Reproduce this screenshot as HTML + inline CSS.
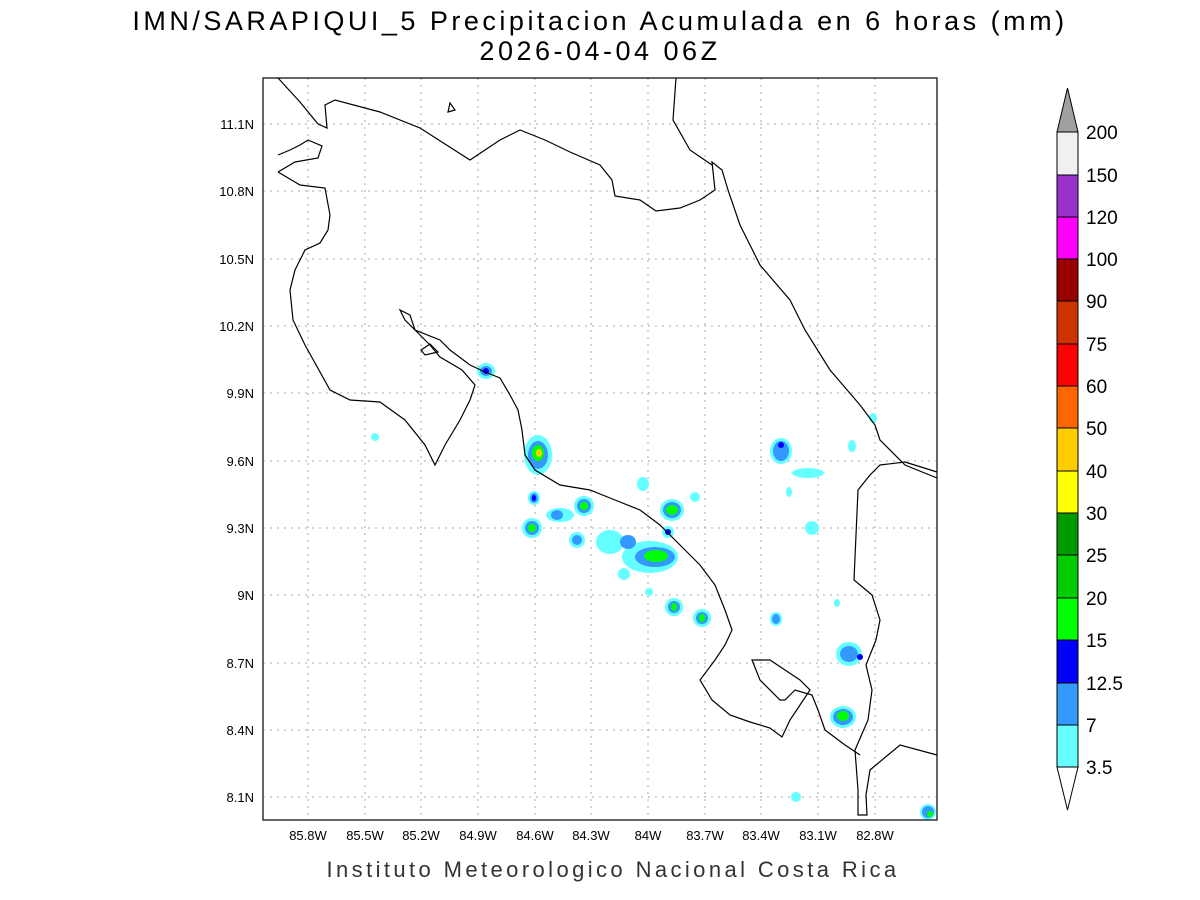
<!DOCTYPE html>
<html><head><meta charset="utf-8"><style>
body{margin:0;background:#fff;width:1200px;height:900px;overflow:hidden}
svg{display:block}
text{font-family:"Liberation Sans",sans-serif}
</style></head><body>
<svg width="1200" height="900" viewBox="0 0 1200 900">
<rect width="1200" height="900" fill="#fff"/>
<text x="600" y="30" font-size="27" text-anchor="middle" letter-spacing="3.5">IMN/SARAPIQUI_5 Precipitacion Acumulada en 6 horas (mm)</text>
<text x="600" y="60" font-size="27" text-anchor="middle" letter-spacing="3.5">2026-04-04 06Z</text>
<g stroke="#aaa" stroke-width="1" stroke-dasharray="2,5">
<line x1="308" y1="78" x2="308" y2="820"/><line x1="365" y1="78" x2="365" y2="820"/><line x1="421" y1="78" x2="421" y2="820"/><line x1="478" y1="78" x2="478" y2="820"/><line x1="535" y1="78" x2="535" y2="820"/><line x1="591" y1="78" x2="591" y2="820"/><line x1="648" y1="78" x2="648" y2="820"/><line x1="705" y1="78" x2="705" y2="820"/><line x1="761" y1="78" x2="761" y2="820"/><line x1="818" y1="78" x2="818" y2="820"/><line x1="875" y1="78" x2="875" y2="820"/>
<line x1="263" y1="124" x2="937" y2="124"/><line x1="263" y1="191" x2="937" y2="191"/><line x1="263" y1="259" x2="937" y2="259"/><line x1="263" y1="326" x2="937" y2="326"/><line x1="263" y1="393" x2="937" y2="393"/><line x1="263" y1="461" x2="937" y2="461"/><line x1="263" y1="528" x2="937" y2="528"/><line x1="263" y1="595" x2="937" y2="595"/><line x1="263" y1="663" x2="937" y2="663"/><line x1="263" y1="730" x2="937" y2="730"/><line x1="263" y1="797" x2="937" y2="797"/>
</g>
<g>
<g fill="#66ffff"><ellipse cx="538" cy="455" rx="14" ry="20"/><ellipse cx="532" cy="528" rx="10" ry="10"/><ellipse cx="584" cy="506" rx="10" ry="10"/><ellipse cx="560" cy="515" rx="14" ry="7"/><ellipse cx="577" cy="540" rx="8" ry="8"/><ellipse cx="610" cy="542" rx="14" ry="12"/><ellipse cx="650" cy="557" rx="28" ry="16"/><ellipse cx="672" cy="510" rx="12" ry="11"/><ellipse cx="668" cy="532" rx="6" ry="6"/><ellipse cx="674" cy="607" rx="9" ry="9"/><ellipse cx="702" cy="618" rx="9" ry="9"/><ellipse cx="781" cy="451" rx="11" ry="13"/><ellipse cx="808" cy="473" rx="16" ry="5"/><ellipse cx="849" cy="654" rx="13" ry="12"/><ellipse cx="843" cy="717" rx="13" ry="11"/><ellipse cx="486" cy="371" rx="9" ry="8"/><ellipse cx="776" cy="619" rx="6" ry="7"/><ellipse cx="534" cy="498" rx="6" ry="7"/><ellipse cx="643" cy="484" rx="6" ry="7"/><ellipse cx="928" cy="812" rx="8" ry="8"/><ellipse cx="812" cy="528" rx="7" ry="7"/><ellipse cx="695" cy="497" rx="5" ry="5"/><ellipse cx="624" cy="574" rx="6" ry="6"/><ellipse cx="375" cy="437" rx="4" ry="4"/><ellipse cx="796" cy="797" rx="5" ry="5"/><ellipse cx="852" cy="446" rx="4" ry="6"/><ellipse cx="873" cy="418" rx="4" ry="5"/><ellipse cx="649" cy="592" rx="4" ry="4"/><ellipse cx="789" cy="492" rx="3" ry="5"/><ellipse cx="837" cy="603" rx="3" ry="4"/></g>
<g fill="#3399ff"><ellipse cx="538" cy="455" rx="10" ry="14"/><ellipse cx="532" cy="528" rx="7" ry="7"/><ellipse cx="584" cy="506" rx="7" ry="7"/><ellipse cx="577" cy="540" rx="5" ry="5"/><ellipse cx="628" cy="542" rx="8" ry="7"/><ellipse cx="655" cy="557" rx="20" ry="10"/><ellipse cx="672" cy="510" rx="9" ry="8"/><ellipse cx="674" cy="607" rx="6" ry="6"/><ellipse cx="702" cy="618" rx="6" ry="6"/><ellipse cx="781" cy="451" rx="8" ry="10"/><ellipse cx="849" cy="654" rx="9" ry="8"/><ellipse cx="843" cy="717" rx="10" ry="8"/><ellipse cx="486" cy="371" rx="6" ry="5"/><ellipse cx="534" cy="498" rx="4" ry="5"/><ellipse cx="928" cy="812" rx="6" ry="6"/><ellipse cx="776" cy="619" rx="4" ry="5"/><ellipse cx="557" cy="515" rx="6" ry="5"/></g>
<g fill="#00ff00"><ellipse cx="538" cy="453" rx="6" ry="8"/><ellipse cx="532" cy="528" rx="4" ry="4"/><ellipse cx="584" cy="506" rx="4" ry="4"/><ellipse cx="656" cy="556" rx="12" ry="6"/><ellipse cx="672" cy="510" rx="6" ry="5"/><ellipse cx="674" cy="607" rx="3" ry="4"/><ellipse cx="702" cy="618" rx="3" ry="4"/><ellipse cx="843" cy="716" rx="6" ry="5"/><ellipse cx="930" cy="814" rx="3" ry="3"/></g>
<g fill="#0000ff"><ellipse cx="486" cy="371" rx="3" ry="3"/><ellipse cx="668" cy="532" rx="3" ry="3"/><ellipse cx="781" cy="445" rx="3" ry="3"/><ellipse cx="860" cy="657" rx="3" ry="3"/><ellipse cx="534" cy="498" rx="2" ry="3"/></g>
<ellipse cx="539" cy="453" rx="3" ry="4" fill="#ffcc00"/>
</g>
<g fill="none" stroke="#000" stroke-width="1.2">
<path d="M278,78 L300,102 L318,124 L327,128 L325,105 L335,100 L380,112 L420,128 L470,160 L500,140 L520,130 L545,140 L570,152 L600,165 L612,180 L615,196 L640,200 L656,211 L680,208 L700,200 L715,190 L712,162 L722,170 L728,190 L740,225 L760,265 L790,300 L805,330 L830,370 L860,405 L875,425 L880,440 L905,465 L937,478"/>
<path d="M676,78 L673,120 L690,150 L712,165"/>
<path d="M937,472 L905,462 L880,465 L870,475 L858,490 L854,580 L872,595 L880,620 L876,640 L866,665 L872,690 L868,720 L855,750 L858,790 L858,815 L867,815 L866,795 L870,770 L900,745 L937,755"/>
<path d="M278,172 L295,162 L318,158 L322,146 L308,140 L300,145 L290,150 L278,155"/>
<path d="M278,172 L300,185 L325,188 L330,215 L328,230 L320,243 L305,250 L295,270 L290,290 L293,320 L305,345 L330,390 L350,400 L380,402 L405,420 L425,445 L435,465 L445,445 L460,420 L470,400 L475,385 L462,370 L440,357 L430,345 L415,330 L405,320 L400,310 L410,315 L415,330 L440,340 L450,350 L470,365 L485,372 L500,378 L510,395 L518,410 L522,430 L525,455 L535,470 L560,485 L590,490 L615,500 L640,510 L660,525 L680,545 L700,565 L715,585 L725,610 L732,630 L725,645 L715,660 L700,680 L712,700 L730,715 L750,722 L770,728 L782,737 L790,720 L800,705 L810,690 L800,680 L785,670 L770,660 L752,660 L760,680 L780,700 L785,700 L795,690 L812,695 L818,710 L825,730 L845,745 L860,755"/>
<path d="M421,350 L430,344 L438,352 L425,355 Z"/>
<path d="M450,103 L455,110 L448,112 Z"/>
</g>
<rect x="263" y="78" width="674" height="742" fill="none" stroke="#000" stroke-width="1.2"/>
<g font-size="13" text-anchor="middle">
<text x="308" y="840">85.8W</text><text x="365" y="840">85.5W</text><text x="421" y="840">85.2W</text><text x="478" y="840">84.9W</text><text x="535" y="840">84.6W</text><text x="591" y="840">84.3W</text><text x="648" y="840">84W</text><text x="705" y="840">83.7W</text><text x="761" y="840">83.4W</text><text x="818" y="840">83.1W</text><text x="875" y="840">82.8W</text>
</g>
<g font-size="13" text-anchor="end">
<text x="254" y="129">11.1N</text><text x="254" y="196">10.8N</text><text x="254" y="264">10.5N</text><text x="254" y="331">10.2N</text><text x="254" y="398">9.9N</text><text x="254" y="466">9.6N</text><text x="254" y="533">9.3N</text><text x="254" y="600">9N</text><text x="254" y="668">8.7N</text><text x="254" y="735">8.4N</text><text x="254" y="802">8.1N</text>
</g>
<text x="613" y="877" font-size="22" text-anchor="middle" fill="#333" letter-spacing="3.4">Instituto Meteorologico Nacional Costa Rica</text>
<g stroke="#000" stroke-width="1">
<polygon points="1057,132 1078,132 1067.5,88" fill="#a0a0a0"/>
<rect x="1057" y="132" width="21" height="43" fill="#f0f0f0"/>
<rect x="1057" y="175" width="21" height="42" fill="#9933cc"/>
<rect x="1057" y="217" width="21" height="42" fill="#ff00ff"/>
<rect x="1057" y="259" width="21" height="42" fill="#990000"/>
<rect x="1057" y="301" width="21" height="43" fill="#cc3300"/>
<rect x="1057" y="344" width="21" height="42" fill="#ff0000"/>
<rect x="1057" y="386" width="21" height="42" fill="#ff6600"/>
<rect x="1057" y="428" width="21" height="43" fill="#ffcc00"/>
<rect x="1057" y="471" width="21" height="42" fill="#ffff00"/>
<rect x="1057" y="513" width="21" height="42" fill="#009900"/>
<rect x="1057" y="555" width="21" height="43" fill="#00cc00"/>
<rect x="1057" y="598" width="21" height="42" fill="#00ff00"/>
<rect x="1057" y="640" width="21" height="43" fill="#0000ff"/>
<rect x="1057" y="683" width="21" height="42" fill="#3399ff"/>
<rect x="1057" y="725" width="21" height="42" fill="#66ffff"/>
<polygon points="1057,767 1078,767 1067.5,810" fill="#fff"/>
</g>
<g font-size="19">
<text x="1086" y="139">200</text><text x="1086" y="182">150</text><text x="1086" y="224">120</text><text x="1086" y="266">100</text><text x="1086" y="308">90</text><text x="1086" y="351">75</text><text x="1086" y="393">60</text><text x="1086" y="435">50</text><text x="1086" y="478">40</text><text x="1086" y="520">30</text><text x="1086" y="562">25</text><text x="1086" y="605">20</text><text x="1086" y="647">15</text><text x="1086" y="690">12.5</text><text x="1086" y="732">7</text><text x="1086" y="774">3.5</text>
</g>
</svg>
</body></html>
